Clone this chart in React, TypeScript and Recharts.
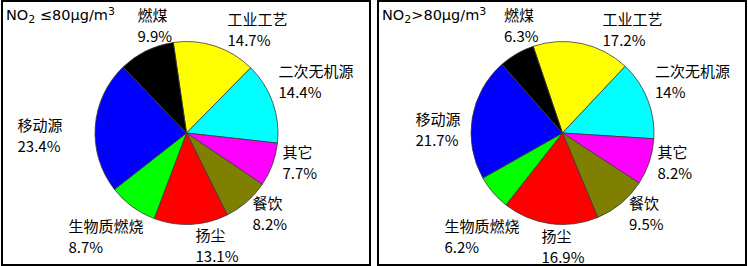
import { Cell, Pie, PieChart } from "recharts";

// source categories, clockwise from the top
const SOURCES = ["工业工艺", "二次无机源", "其它", "餐饮", "扬尘", "生物质燃烧", "移动源", "燃煤"];
// contribution (%) for NO2 <= 80 and NO2 > 80
const SHARE_LOW = [14.7, 14.4, 7.7, 8.2, 13.1, 8.7, 23.4, 9.9];
const SHARE_HIGH = [17.2, 14, 8.2, 9.5, 16.9, 6.2, 21.7, 6.3];

const COLORS = ["#ffff00", "#00ffff", "#ff00ff", "#808000", "#ff0000", "#00ff00", "#0000ff", "#000000"];

// label text position relative to pie centre: left edge, first baseline
const LABEL_AT_LOW: [number, number][] = [
  [41, -108], [92, -56.5], [96, 24.5], [66, 76], [9, 107.5], [-118, 99], [-169, -2.5], [-49, -112.5],
];
const LABEL_AT_HIGH: [number, number][] = [
  [40, -108], [92.5, -56.5], [95, 25], [66.5, 76], [-21, 109], [-118, 99], [-147, -8.5], [-58.5, -112.5],
];

const FONT = "'Noto Sans CJK SC', 'Noto Sans', sans-serif";

function makeLabel(offsets: [number, number][]) {
  return (props: any) => {
    const { cx, cy, index, value } = props;
    const [dx, dy] = offsets[index];
    const x = cx + dx;
    const y = cy + dy;
    return (
      <text x={x} y={y} fill="#000" fontSize={15} fontFamily={FONT}>
        <tspan x={x} y={y}>{SOURCES[index]}</tspan>
        <tspan x={x} y={y + 21}>{`${value}%`}</tspan>
      </text>
    );
  };
}

function Panel({
  left,
  values,
  startAngle,
  labelAt,
  title,
}: {
  left: number;
  values: number[];
  startAngle: number;
  labelAt: [number, number][];
  title: "low" | "high";
}) {
  const data = SOURCES.map((name, i) => ({ name, value: values[i] }));
  return (
    <div
      style={{
        position: "absolute",
        left,
        top: 0,
        width: 370,
        height: 266,
        overflow: "hidden",
        background: "#fff",
      }}
    >
      <PieChart width={370} height={266} margin={{ top: 0, right: 0, bottom: 0, left: 0 }}>
        <Pie
          data={data}
          dataKey="value"
          nameKey="name"
          cx={185.5}
          cy={133}
          outerRadius={91.5}
          startAngle={startAngle}
          endAngle={startAngle - 360}
          stroke="#3a3a3a"
          strokeWidth={0.8}
          labelLine={false}
          label={makeLabel(labelAt)}
          isAnimationActive={false}
        >
          {data.map((d, i) => (
            <Cell key={d.name} fill={COLORS[i]} />
          ))}
        </Pie>
      </PieChart>
      <svg width={370} height={40} style={{ position: "absolute", left: 0, top: 0 }}>
        <text x={5} y={19.5} fontSize={14.5} fontFamily="'DejaVu Sans', sans-serif" fill="#000">
          NO
          <tspan fontSize={11} dy={3}>2</tspan>
          <tspan dy={-3}>{title === "low" ? "\u00a0≤80μg/m" : ">80μg/m"}</tspan>
          <tspan fontSize={11} dy={-5}>3</tspan>
        </text>
      </svg>
      <div
        style={{
          position: "absolute",
          inset: 0,
          border: "2px solid #000",
          boxSizing: "border-box",
          pointerEvents: "none",
        }}
      />
    </div>
  );
}

export default function App() {
  return (
    <div style={{ position: "relative", width: 748, height: 266, background: "#fff" }}>
      <style>{"body{margin:0}"}</style>
      <Panel left={1} values={SHARE_LOW} startAngle={98.3} labelAt={LABEL_AT_LOW} title="low" />
      <Panel left={377} values={SHARE_HIGH} startAngle={108.7} labelAt={LABEL_AT_HIGH} title="high" />
    </div>
  );
}
